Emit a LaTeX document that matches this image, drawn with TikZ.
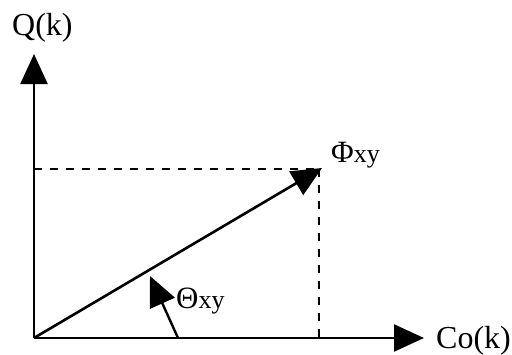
\documentclass[tikz,border=0pt]{standalone}
\usepackage{fontspec}
\setmainfont{Liberation Serif}
\usetikzlibrary{arrows.meta}

\tikzset{
	bigtip/.style={-{Triangle[length=30pt,width=27pt]}},
	axisline/.style={line width=2.4pt, bigtip},
	guideline/.style={line width=2.5pt, dash pattern=on 8pt off 8pt},
	lbl/.style={anchor=base west, inner sep=0pt, font=\fontsize{32}{34}\selectfont},
}
\newcommand{\subxy}{{\fontsize{26}{28}\selectfont xy}}

\begin{document}
\begin{tikzpicture}[x=1pt,y=-1pt]
	% Fixed canvas in pixel units of the reference.
	\path[use as bounding box] (0,0) rectangle (512,354);
	\fill[white] (0,0) rectangle (512,354);

	% Key points.
	\coordinate (origin) at (34,338);
	\coordinate (ytip) at (34,54);
	\coordinate (xtip) at (424,338);
	\coordinate (phi) at (322,168);
	\coordinate (phix) at (319,338);
	\coordinate (phiy) at (34,169);
	\coordinate (phicorner) at (319,169);
	\coordinate (thstart) at (178,338);
	\coordinate (thtip) at (150,276);

	% Projections of the vector on both axes.
	\draw[guideline] (phiy) -- (phicorner);
	\draw[guideline] (phicorner) -- (phix);

	% Axes.
	\draw[axisline] (origin) -- (ytip);
	\draw[axisline] (origin) -- (xtip);

	% Vector and angle arrow.
	\draw[line width=2.6pt, bigtip] (origin) -- (phi);
	\draw[line width=2.4pt, bigtip] (thstart) -- (thtip);

	% Labels.
	\node[lbl] (qlabel) at (12,35) {Q(k)};
	\node[lbl] (colabel) at (436,348) {Co(k)};
	\node[lbl, font=\fontsize{31}{33}\selectfont] (philabel) at (331,162) {Φ\subxy};
	\node[lbl, font=\fontsize{31}{33}\selectfont] (thlabel) at (176,308) {Θ\subxy};
\end{tikzpicture}
\end{document}
